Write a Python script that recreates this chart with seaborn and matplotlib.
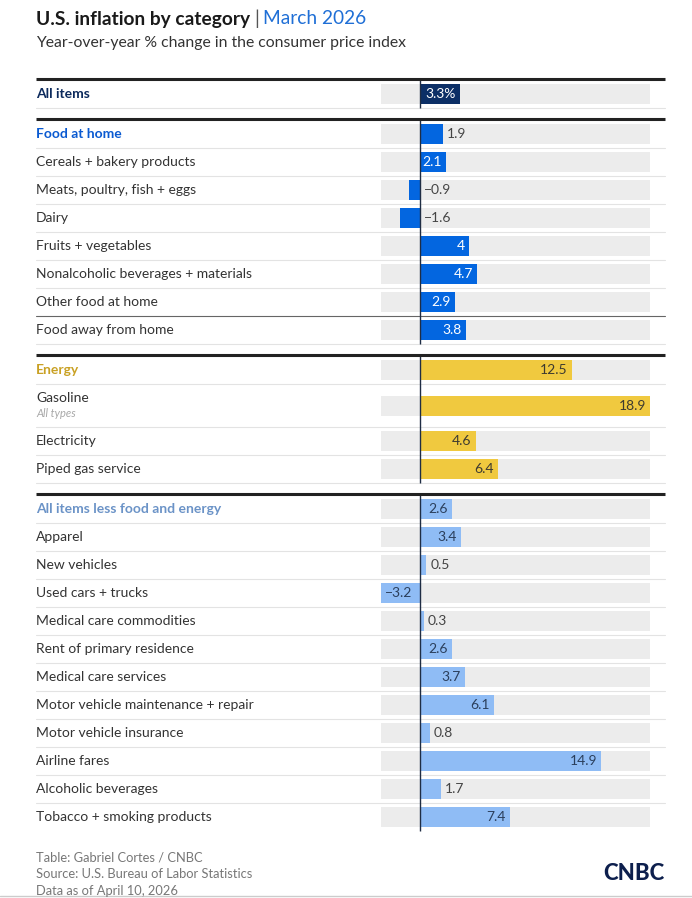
import matplotlib
matplotlib.use("Agg")
import matplotlib.pyplot as plt
import matplotlib.transforms as mtransforms
import seaborn as sns
import pandas as pd
import numpy as np

sns.set_theme(style="white")
plt.rcParams['font.family'] = ['Lato', 'DejaVu Sans']

# ---------------- data ----------------
categories = [
    "All items",
    "Food at home", "Cereals + bakery products", "Meats, poultry, fish + eggs", "Dairy",
    "Fruits + vegetables", "Nonalcoholic beverages + materials", "Other food at home",
    "Food away from home",
    "Energy", "Gasoline", "Electricity", "Piped gas service",
    "All items less food and energy", "Apparel", "New vehicles", "Used cars + trucks",
    "Medical care commodities", "Rent of primary residence", "Medical care services",
    "Motor vehicle maintenance + repair", "Motor vehicle insurance", "Airline fares",
    "Alcoholic beverages", "Tobacco + smoking products",
]
values = [3.3,
          1.9, 2.1, -0.9, -1.6, 4, 4.7, 2.9, 3.8,
          12.5, 18.9, 4.6, 6.4,
          2.6, 3.4, 0.5, -3.2, 0.3, 2.6, 3.7, 6.1, 0.8, 14.9, 1.7, 7.4]
value_labels = ["3.3%",
                "1.9", "2.1", "−0.9", "−1.6", "4", "4.7", "2.9", "3.8",
                "12.5", "18.9", "4.6", "6.4",
                "2.6", "3.4", "0.5", "−3.2", "0.3", "2.6", "3.7", "6.1", "0.8", "14.9", "1.7", "7.4"]
groups = ["all"] + ["food"] * 8 + ["energy"] * 4 + ["core"] * 12
headers = ["All items", "Food at home", "Energy", "All items less food and energy"]
section_sizes = [1, 8, 4, 12]
x_min, x_max = -3.2, 18.9

# ---------------- style ----------------
bar_colors = {"all": "#0c2f66", "food": "#0366e0", "energy": "#f0c93f", "core": "#8fbcf5"}
header_colors = {"all": "#0c2a5c", "food": "#0a5ad1", "energy": "#c9a124", "core": "#6b93c7"}
inside_text = {"all": "white", "food": "white", "energy": "#3d3a30", "core": "#2b3f5c"}
FS = 10.0

W, H = 692, 898
fig = plt.figure(figsize=(W / 100, H / 100), dpi=100)
fig.patch.set_facecolor("white")
ax = fig.add_axes([381 / W, 0, (650 - 381) / W, 1])
ax.set_facecolor("none")

# ---------------- layout (pixel rows) ----------------
row_heights = []
for i, c in enumerate(categories):
    row_heights.append(43 if c == "Gasoline" else 28)

centers, thick_lines, thin_lines, sec_spans = [], [], [], []
top = 79
idx = 0
for s, n in enumerate(section_sizes):
    thick_lines.append(top)
    y = top + 1
    start = top
    for k in range(n):
        h = row_heights[idx]
        centers.append(y + h / 2)
        y += h
        if not (s == len(section_sizes) - 1 and k == n - 1):
            dark = categories[idx] == "Other food at home"
            thin_lines.append((y, dark))
        idx += 1
    sec_spans.append((start + 1, y))
    top = y + 11

df = pd.DataFrame({"category": categories, "value": values, "group": groups,
                   "ypos": centers})

# background tracks
ax.barh(df["ypos"], width=x_max - x_min, left=x_min, height=20,
        color="#ececec", linewidth=0, zorder=0)

sns.barplot(data=df, x="value", y="ypos", hue="group", palette=bar_colors,
            orient="y", native_scale=True, width=20 / 28, dodge=False,
            legend=False, linewidth=0, saturation=1, ax=ax, zorder=2)

ax.set_xlim(x_min, x_max)
ax.set_ylim(H, 0)
ax.axis("off")

# zero line per section
for a, b in sec_spans:
    ax.vlines(0, a, b, color="#1f2d44", lw=1.0, zorder=3)

blend = mtransforms.blended_transform_factory(fig.transFigure, ax.transData)
x0, x1 = 36 / W, 665 / W
for y in thick_lines:
    ax.plot([x0, x1], [y, y], transform=blend, color="#222222", lw=2.2,
            clip_on=False, solid_capstyle="butt", zorder=4)
for y, dark in thin_lines:
    ax.plot([x0, x1], [y, y], transform=blend,
            color="#666666" if dark else "#e3e3e3", lw=0.8,
            clip_on=False, zorder=1)

# row labels
for c, g, y in zip(categories, groups, centers):
    if c in headers:
        ax.text(x0, y, c, transform=blend, ha="left", va="center",
                fontsize=FS, fontweight="bold", color=header_colors[g])
    elif c == "Gasoline":
        ax.text(x0, y - 7.5, c, transform=blend, ha="left", va="center",
                fontsize=FS, color="#333333")
        ax.text(x0, y + 8, "All types", transform=blend, ha="left", va="center",
                fontsize=8.0, style="italic", color="#a8a8a8")
    else:
        ax.text(x0, y, c, transform=blend, ha="left", va="center",
                fontsize=FS, color="#333333")

# value labels
for v, lab, g, y in zip(values, value_labels, groups, centers):
    if abs(v) >= 2.0:
        if v > 0:
            ax.annotate(lab, (v, y), xytext=(-3, 0), textcoords="offset points",
                        ha="right", va="center", fontsize=FS, color=inside_text[g],
                        zorder=5)
        else:
            ax.annotate(lab, (v, y), xytext=(2.5, 0), textcoords="offset points",
                        ha="left", va="center", fontsize=FS, color=inside_text[g],
                        zorder=5)
    else:
        ax.annotate(lab, (max(v, 0), y), xytext=(3, 0), textcoords="offset points",
                    ha="left", va="center", fontsize=FS, color="#444444", zorder=5)

# title
renderer = fig.canvas.get_renderer()
t1 = fig.text(36 / W, 1 - 19 / H, "U.S. inflation by category", ha="left", va="center",
              fontsize=13.8, fontweight="bold", color="#1a1a1a")
bb = t1.get_window_extent(renderer)
t2 = fig.text((bb.x1 + 4) / W, 1 - 19 / H, "|", ha="left", va="center",
              fontsize=13.8, color="#555555")
bb2 = t2.get_window_extent(renderer)
fig.text((bb2.x1 + 4) / W, 1 - 19 / H, "March 2026", ha="left", va="center",
         fontsize=13.8, color="#1f6fd6")
fig.text(36 / W, 1 - 43 / H, "Year-over-year % change in the consumer price index",
         ha="left", va="center", fontsize=11.3, color="#333333")

# footer
for i, line in enumerate(["Table: Gabriel Cortes / CNBC",
                          "Source: U.S. Bureau of Labor Statistics",
                          "Data as of April 10, 2026"]):
    fig.text(36 / W, 1 - (857 + 17 * i) / H, line, ha="left", va="center",
             fontsize=9.3, color="#777777")
fig.text(665 / W, 1 - 873 / H, "CNBC", ha="right", va="center", fontsize=16,
         fontweight="black", color="#0d1f4d")
fig.add_artist(plt.Line2D([0, 1], [1 - 896 / H, 1 - 896 / H], color="#cccccc", lw=1))

fig.savefig("out.png", dpi=100, facecolor="white")
